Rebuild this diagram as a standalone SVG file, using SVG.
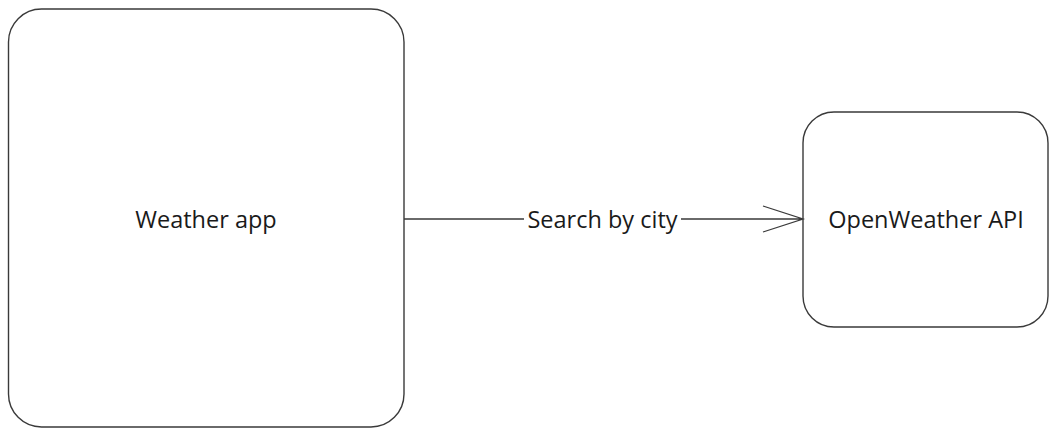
<svg xmlns="http://www.w3.org/2000/svg" width="1049" height="428" viewBox="0 0 1049 428">
<style>
.box{fill:#fff;stroke:#3a3a3a;stroke-width:1.4}
.t{font-family:"Open Sans","Noto Sans",sans-serif;font-size:23.5px;fill:#1a1a1a;text-anchor:middle;dominant-baseline:central}
.c{fill:none;stroke:#3a3a3a;stroke-width:1.3}
</style>
<rect width="1049" height="428" fill="#fff"/>
<g id="weather-app">
<rect class="box" x="8.5" y="9" width="395.5" height="418" rx="33" ry="33"/>
<text class="t" x="206" y="219">Weather app</text>
</g>
<g id="openweather-api">
<rect class="box" x="803" y="112" width="245" height="215" rx="31" ry="31"/>
<text class="t" x="926" y="219">OpenWeather API</text>
</g>
<g id="connectors">
<path class="c" d="M404 219H524M681 219H803M763 206L803 219L763 232"/>
<text class="t" x="602.5" y="219">Search by city</text>
</g>
</svg>
